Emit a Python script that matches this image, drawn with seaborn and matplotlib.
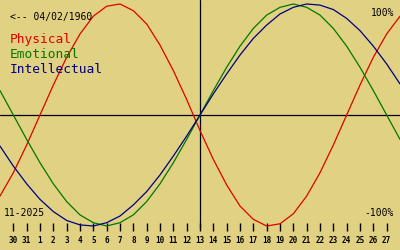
import numpy as np
import pandas as pd
import matplotlib
matplotlib.use("Agg")
import matplotlib.pyplot as plt
import seaborn as sns

# Day labels from Oct 29 to Nov 28 (first/last only at the edges)
day_labels = ["29", "30", "31"] + [str(d) for d in range(1, 29)]
physical = [-0.73, -0.52, -0.27, 0.00, 0.27, 0.52, 0.73, 0.89, 0.98, 1.00, 0.94,
            0.82, 0.63, 0.40, 0.14, -0.14, -0.40, -0.63, -0.82, -0.94, -1.00,
            -0.98, -0.89, -0.73, -0.52, -0.27, 0.00, 0.27, 0.52, 0.73, 0.89]
emotional = [0.22, 0.00, -0.22, -0.43, -0.62, -0.78, -0.90, -0.97, -1.00, -0.97,
             -0.90, -0.78, -0.62, -0.43, -0.22, 0.00, 0.22, 0.43, 0.62, 0.78,
             0.90, 0.97, 1.00, 0.97, 0.90, 0.78, 0.62, 0.43, 0.22, 0.00, -0.22]
intellectual = [-0.28, -0.46, -0.62, -0.76, -0.87, -0.95, -0.99, -1.00, -0.97,
                -0.91, -0.81, -0.69, -0.54, -0.37, -0.19, 0.00, 0.19, 0.37, 0.54,
                0.69, 0.81, 0.91, 0.97, 1.00, 0.99, 0.95, 0.87, 0.76, 0.62, 0.46,
                0.28]
series_names = ["Physical", "Emotional", "Intellectual"]
birth_text = "<-- 04/02/1960"
month_text = "11-2025"
today_label = "13"

BG = "#e1d183"
colors = {"Physical": "#e00000", "Emotional": "#007800", "Intellectual": "#000080"}

pos = np.arange(len(day_labels)) - 1
df = pd.concat([
    pd.DataFrame({"pos": pos, "value": vals, "series": name})
    for name, vals in zip(series_names, [physical, emotional, intellectual])
])

sns.set_theme(style="white")
plt.rcParams["font.family"] = ["DejaVu Sans Mono", "DejaVu Sans"]

fig = plt.figure(figsize=(4, 2.5), dpi=100, facecolor=BG)
ax = fig.add_axes([0, 19 / 250, 1, 231 / 250])
ax.set_facecolor(BG)

ax.axhline(0, color="black", lw=0.9, zorder=1)
today_pos = pos[day_labels.index(today_label, 3)]
ax.axvline(today_pos, ymin=3 / 231, color="black", lw=0.9, zorder=1)

sns.lineplot(data=df, x="pos", y="value", hue="series", palette=colors,
             hue_order=series_names, legend=False, ax=ax, lw=0.9,
             sort=False, estimator=None, zorder=2)

ax.set_xlim(-1, 29)
ax.set_ylim(-1.045, 1.036)
ax.set_xlabel("")
ax.set_ylabel("")
for s in ax.spines.values():
    s.set_visible(False)

tick_pos = pos[1:-1]
ax.set_xticks(tick_pos)
ax.set_xticklabels(day_labels[1:-1], fontsize=5.5, fontweight="bold")
ax.tick_params(axis="x", direction="in", length=6, width=1, color="black",
               pad=3.5, bottom=True, labelcolor="black")
ax.set_yticks([])

def ftxt(x, y, s, **kw):
    fig.text(x / 400, 1 - y / 250, s, va="baseline", **kw)

ftxt(10, 20, birth_text, fontsize=7, color="black")
ftxt(10, 43.3, series_names[0], fontsize=9.3, color=colors["Physical"])
ftxt(10, 57.5, series_names[1], fontsize=9.3, color=colors["Emotional"])
ftxt(10, 72.7, series_names[2], fontsize=9.3, color=colors["Intellectual"])
ftxt(4, 216, month_text, fontsize=7, color="black")
ftxt(394, 16, "100%", fontsize=7, color="black", ha="right")
ftxt(394, 216, "-100%", fontsize=7, color="black", ha="right")

fig.savefig("out.png", dpi=100, facecolor=BG)
